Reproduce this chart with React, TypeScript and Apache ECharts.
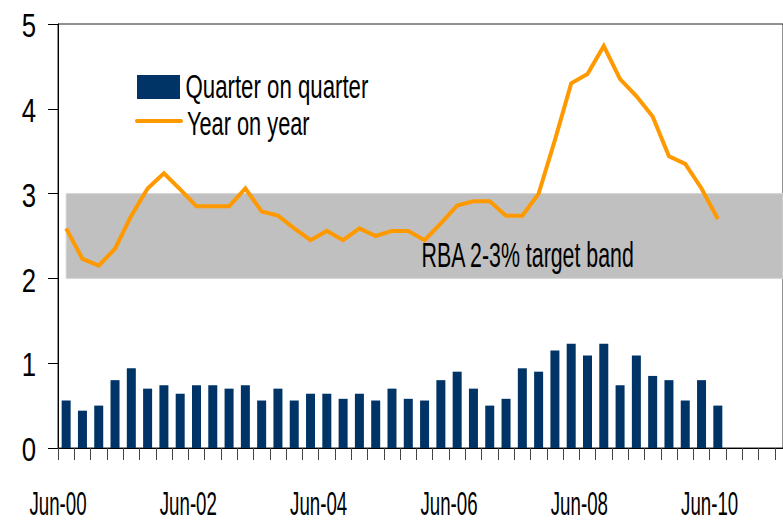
import React, { useEffect, useRef } from 'react';
import * as echarts from 'echarts';

// ---- data ----
const quarterOnQuarter = [
  0.56, 0.44, 0.5, 0.8, 0.94, 0.7, 0.74, 0.64, 0.74, 0.74,
  0.7, 0.74, 0.56, 0.7, 0.56, 0.64, 0.64, 0.58, 0.64, 0.56,
  0.7, 0.58, 0.56, 0.8, 0.9, 0.7, 0.5, 0.58, 0.94, 0.9,
  1.15, 1.23, 1.09, 1.23, 0.74, 1.09, 0.85, 0.8, 0.56, 0.8, 0.5,
];
const yearOnYear = [
  2.59, 2.23, 2.15, 2.35, 2.74, 3.06, 3.24, 3.05, 2.85, 2.85,
  2.85, 3.06, 2.79, 2.74, 2.59, 2.45, 2.56, 2.45, 2.59, 2.5,
  2.56, 2.56, 2.45, 2.65, 2.86, 2.91, 2.91, 2.74, 2.74, 3.0,
  3.63, 4.3, 4.41, 4.74, 4.35, 4.15, 3.91, 3.44, 3.35, 3.06, 2.7,
];
const xTickLabels = ['Jun-00', 'Jun-02', 'Jun-04', 'Jun-06', 'Jun-08', 'Jun-10'];
const xTickLabelAt = [0, 8, 16, 24, 32, 40];
const yTickValues = [0, 1, 2, 3, 4, 5];
const bandLow = 2;
const bandHigh = 3;
const bandStart = 0.5;
const xMax = 44.5;
const seriesNames = ['Quarter on quarter', 'Year on year'];
const bandLabel = 'RBA 2-3% target band';

const FONT = "'Liberation Sans', Arial, sans-serif";
const NAVY = '#003366';
const ORANGE = '#FF9900';

export default function App() {
  const ref = useRef<HTMLDivElement>(null);

  useEffect(() => {
    const chart = echarts.init(ref.current as HTMLDivElement, null, { renderer: 'svg' });
    chart.setOption({
      animation: false,
      backgroundColor: '#ffffff',
      grid: {
        left: 58,
        right: 0,
        top: 24,
        bottom: 75,
        show: true,
        borderColor: '#222222',
        borderWidth: 1,
        backgroundColor: 'transparent',
      },
      xAxis: {
        type: 'value',
        min: 0,
        max: xMax,
        interval: 1,
        axisLine: { show: true, lineStyle: { color: '#000', width: 1 } },
        axisTick: { show: true, inside: false, length: 12, lineStyle: { color: '#444', width: 1 } },
        axisLabel: { show: false },
        splitLine: { show: false },
      },
      yAxis: {
        type: 'value',
        min: 0,
        max: 5,
        interval: 1,
        axisLine: { show: true, lineStyle: { color: '#000', width: 1 } },
        axisTick: { show: true, inside: false, length: 10, lineStyle: { color: '#000', width: 1 } },
        axisLabel: { show: false },
        splitLine: { show: false },
      },
      series: [
        {
          name: seriesNames[0],
          type: 'bar',
          barWidth: 9,
          itemStyle: { color: NAVY },
          data: quarterOnQuarter.map((v, i) => [i + 0.5, v]),
          markArea: {
            silent: true,
            itemStyle: { color: '#C0C0C0', borderColor: '#D6D6D6', borderWidth: 1 },
            data: [[{ coord: [bandStart, bandLow] }, { coord: [xMax, bandHigh] }]],
          },
          z: 2,
        },
        {
          name: seriesNames[1],
          type: 'line',
          showSymbol: false,
          symbol: 'none',
          lineStyle: { color: ORANGE, width: 4, join: 'miter' },
          itemStyle: { color: ORANGE },
          data: yearOnYear.map((v, i) => [i + 0.5, v]),
          z: 3,
        },
      ],
    });

    const toPx = (x: number, y: number) =>
      chart.convertToPixel({ seriesIndex: 0 }, [x, y]) as unknown as number[];

    const textEl = (
      text: string,
      x: number,
      y: number,
      size: number,
      scaleX: number,
      align: string,
    ) => ({
      type: 'text',
      x,
      y,
      scaleX,
      silent: true,
      z: 10,
      style: {
        text,
        fontSize: size,
        fontFamily: FONT,
        fill: '#000',
        align,
        textAlign: align,
        verticalAlign: 'middle',
        textVerticalAlign: 'middle',
      },
    });

    const elements: any[] = [];
    // y tick labels
    yTickValues.forEach((v) => {
      const p = toPx(0, v);
      elements.push(textEl(String(v), p[0] - 22, p[1] + 1.5, 33, 0.78, 'right'));
    });
    // x tick labels
    xTickLabels.forEach((lab, i) => {
      const p = toPx(xTickLabelAt[i], 0);
      elements.push(textEl(lab, p[0], p[1] + 55, 34, 0.55, 'center'));
    });
    // band label
    const bp = toPx(bandStart, bandLow);
    elements.push(textEl(bandLabel, 421.5, bp[1] - 23, 35, 0.61, 'left'));
    // legend
    elements.push({
      type: 'rect',
      silent: true,
      z: 10,
      shape: { x: 137, y: 75, width: 43, height: 24 },
      style: { fill: NAVY },
    });
    elements.push({
      type: 'line',
      silent: true,
      z: 10,
      shape: { x1: 137, y1: 121, x2: 181, y2: 121 },
      style: { stroke: ORANGE, lineWidth: 4, lineCap: 'round' },
    });
    elements.push(textEl(seriesNames[0], 185.5, 86.7, 33, 0.674, 'left'));
    elements.push(textEl(seriesNames[1], 187, 123.3, 33, 0.66, 'left'));

    chart.setOption({ graphic: { elements } });

    return () => {
      chart.dispose();
    };
  }, []);

  return (
    <div
      ref={ref}
      style={{ position: 'absolute', left: 0, top: 0, width: 783, height: 523 }}
    />
  );
}
